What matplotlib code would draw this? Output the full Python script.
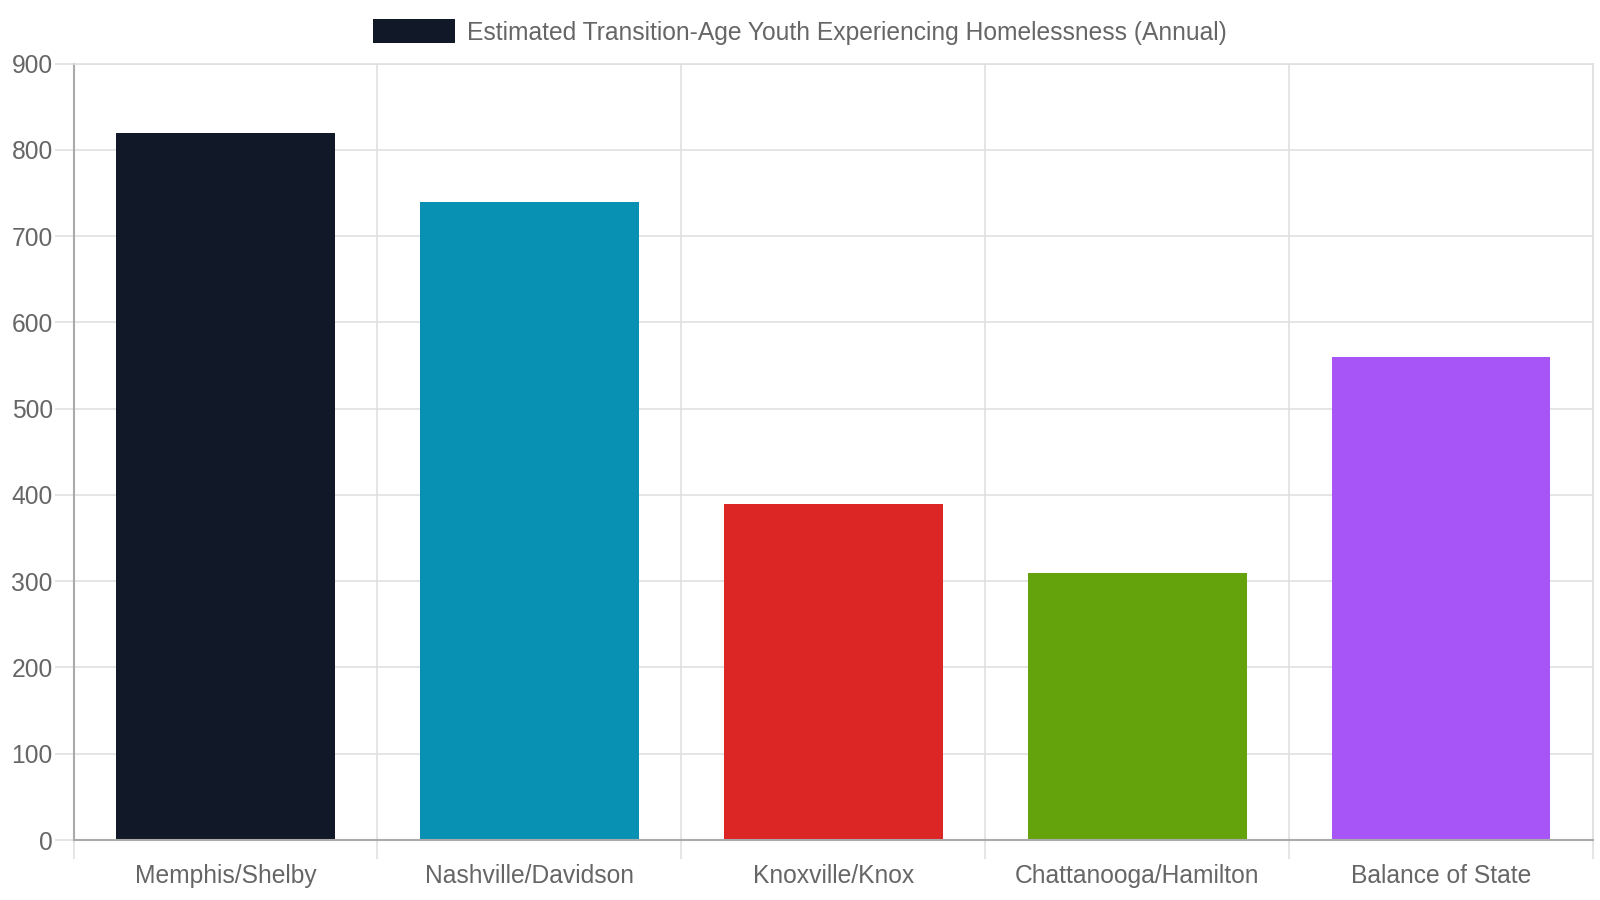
import numpy as np
import matplotlib.pyplot as plt
from matplotlib.patches import Patch

regions = ["Memphis/Shelby", "Nashville/Davidson", "Knoxville/Knox",
           "Chattanooga/Hamilton", "Balance of State"]
youth = [820, 740, 390, 310, 560]
colors = ["#111827", "#0891b2", "#dc2626", "#65a30d", "#a855f7"]
series_name = "Estimated Transition-Age Youth Experiencing Homelessness (Annual)"
y_ticks = [0, 100, 200, 300, 400, 500, 600, 700, 800, 900]

plt.rcParams['font.family'] = ['Liberation Sans', 'DejaVu Sans']
fs = 17.7

fig = plt.figure(figsize=(16, 9), dpi=100)
ax = fig.add_axes([73.5 / 1600, 1 - 840 / 900, (1593 - 73.5) / 1600, (840 - 63.5) / 900])

x = np.arange(len(regions))
ax.bar(x, youth, width=0.72, color=colors, zorder=2)

ax.set_xlim(-0.5, len(regions) - 0.5)
ax.set_ylim(0, 900)

# grid lines between categories, extending below the axis like chart.js ticks
ax.set_xticks(np.arange(len(regions) + 1) - 0.5)
ax.set_xticklabels([])
ax.tick_params(axis='x', which='major', length=14, width=1.2, color='#e0e0e0', direction='out')
ax.set_xticks(x, minor=True)
ax.set_xticklabels(regions, minor=True)
ax.tick_params(axis='x', which='minor', length=0, pad=17, labelsize=fs, labelcolor='#666666')
ax.grid(axis='x', which='major', color='#e0e0e0', linewidth=1.2, zorder=0)

ax.set_yticks(y_ticks)
ax.tick_params(axis='y', length=14, width=1.2, color='#e0e0e0', pad=1,
               labelsize=fs, labelcolor='#666666')
ax.grid(axis='y', color='#e0e0e0', linewidth=1.2, zorder=0)

for side in ['top', 'right']:
    ax.spines[side].set_color('#e0e0e0')
    ax.spines[side].set_linewidth(1.2)
for side in ['left', 'bottom']:
    ax.spines[side].set_color('#aaaaaa')
    ax.spines[side].set_linewidth(1.5)
ax.spines['bottom'].set_zorder(3)

fig.legend(handles=[Patch(facecolor=colors[0], label=series_name)],
           loc='center', bbox_to_anchor=(0.5, 1 - 32 / 900), frameon=False,
           fontsize=fs, labelcolor='#666666', handlelength=3.3, handleheight=1.1,
           handletextpad=0.5, borderpad=0)

fig.savefig("out.png", dpi=100)
